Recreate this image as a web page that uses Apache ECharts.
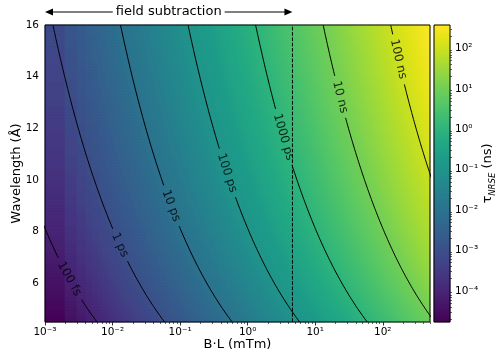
<!DOCTYPE html>
<html>
<head>
<meta charset="utf-8">
<script src="https://cdn.jsdelivr.net/npm/echarts@6/dist/echarts.min.js"></script>
<style>
  html, body { margin: 0; padding: 0; background: #fff; }
  #chart { width: 496px; height: 353px; }
</style>
</head>
<body>
<div id="chart"></div>
<script>
// NRSE spin-echo time over field integral and neutron wavelength
const echoTimeCoefficient = 1.863e-4;          // tau_NRSE in ns per (mT*m * A^3)
const fieldIntegralRange = [1e-3, 500];        // B*L, mTm
const fieldIntegralStep = 1e-3;                // sampling step of B*L
const wavelengthRange = [4.5, 16];             // Angstrom
const subtractionLimit = 4.6;                  // mTm, upper end of field subtraction
const contourLevels = [1e-4, 1e-3, 1e-2, 1e-1, 1, 10, 100];   // ns
const contourNames = ['100 fs', '1 ps', '10 ps', '100 ps', '1000 ps', '10 ns', '100 ns'];
const contourLabelWavelengths = [6.17, 7.48, 9.0, 10.27, 11.66, 13.21, 14.68];
const xTickExponents = [-3, -2, -1, 0, 1, 2];
const yTicks = [6, 8, 10, 12, 14, 16];
const colorTickExponents = [-4, -3, -2, -1, 0, 1, 2];

const viridis = ['#440154', '#471365', '#482475', '#463480', '#414487', '#3b528b', '#355f8d',
  '#2f6c8e', '#2a788e', '#25848e', '#21918c', '#1e9c89', '#22a884', '#2fb47c', '#44bf70',
  '#5ec962', '#7ad151', '#9bd93c', '#bddf26', '#dfe318', '#fde725'];

const FONT = 'DejaVu Sans';
const PLOT = { left: 45, top: 25, width: 385, height: 297 };
const CBAR = { left: 434, top: 25, width: 16, height: 297 };

function echoTime(bl, lam) { return echoTimeCoefficient * bl * lam * lam * lam; }

const xMin = Math.log10(fieldIntegralRange[0]);
const xMax = Math.log10(fieldIntegralRange[1]);
const vMin = Math.log10(echoTime(fieldIntegralRange[0], wavelengthRange[0]));
const vMax = Math.log10(echoTime(fieldIntegralRange[1], wavelengthRange[1]));

// map cells: log-spaced columns, each taking tau at the B*L sample below its centre
const NX = 385, NY = 99;
const mapCells = [];
for (let i = 0; i < NX; i++) {
  const blCentre = Math.pow(10, xMin + (i + 0.5) * (xMax - xMin) / NX);
  const bl = Math.floor(blCentre / fieldIntegralStep + 1e-9) * fieldIntegralStep;
  for (let j = 0; j < NY; j++) {
    const lam = wavelengthRange[0] + (j + 0.5) * (wavelengthRange[1] - wavelengthRange[0]) / NY;
    mapCells.push([i, j, Math.log10(echoTime(bl, lam))]);
  }
}
const NCB = 297;
const cbarCells = [];
for (let j = 0; j < NCB; j++) cbarCells.push([0, j, vMin + (j + 0.5) * (vMax - vMin) / NCB]);

function minorLogTicks(lo, hi) {
  const out = [];
  for (let d = Math.floor(lo); d <= Math.ceil(hi); d++) {
    for (let k = 2; k <= 9; k++) {
      const v = d + Math.log10(k);
      if (v >= lo && v <= hi) out.push(v);
    }
  }
  return out;
}

const SUP = { '-': '\u207b', '0': '\u2070', '1': '\u00b9', '2': '\u00b2', '3': '\u00b3', '4': '\u2074' };
function powLabel(v) {
  const n = String(Math.round(Number(v)));
  return '10' + n.split('').map(c => SUP[c]).join('');
}

const idx = n => Array.from({ length: n }, (_, i) => i);
const gridBase = { outerBoundsMode: 'none', containLabel: false };

const chart = echarts.init(document.getElementById('chart'), null, { renderer: 'canvas' });

const baseOption = {
  animation: false,
  backgroundColor: '#fff',
  textStyle: { fontFamily: FONT },
  grid: [
    Object.assign({ show: false }, gridBase, PLOT),
    Object.assign({ show: true, z: 10, borderColor: '#000', borderWidth: 1, backgroundColor: 'transparent' }, gridBase, PLOT),
    Object.assign({ show: false }, gridBase, CBAR),
    Object.assign({ show: true, z: 10, borderColor: '#000', borderWidth: 1, backgroundColor: 'transparent' }, gridBase, CBAR)
  ],
  xAxis: [
    { type: 'category', gridIndex: 0, data: idx(NX), show: false },
    {
      type: 'value', gridIndex: 1, min: xMin, max: xMax, position: 'bottom',
      axisLine: { show: false }, splitLine: { show: false },
      axisTick: { show: true, inside: false, length: 3.5, customValues: xTickExponents, lineStyle: { color: '#000', width: 0.8 } },
      axisLabel: { show: true, margin: 5, customValues: xTickExponents, formatter: powLabel,
        fontSize: 10.5, fontFamily: FONT, color: '#000', hideOverlap: false },
      name: 'B\u00b7L (mTm)', nameLocation: 'middle', nameGap: 16, nameMoveOverlap: false,
      nameTextStyle: { fontSize: 13, fontFamily: FONT, color: '#000', verticalAlign: 'top' }
    },
    {
      type: 'value', gridIndex: 1, min: xMin, max: xMax, position: 'bottom',
      axisLine: { show: false }, splitLine: { show: false },
      axisTick: { show: true, inside: false, length: 2, customValues: minorLogTicks(xMin, xMax), lineStyle: { color: '#000', width: 0.6 } },
      axisLabel: { show: false }
    },
    { type: 'category', gridIndex: 2, data: [0], show: false },
    { type: 'value', gridIndex: 3, min: 0, max: 1, show: false }
  ],
  yAxis: [
    { type: 'category', gridIndex: 0, data: idx(NY), show: false },
    {
      type: 'value', gridIndex: 1, min: wavelengthRange[0], max: wavelengthRange[1], position: 'left',
      axisLine: { show: false }, splitLine: { show: false },
      axisTick: { show: true, inside: false, length: 3.5, customValues: yTicks, lineStyle: { color: '#000', width: 0.8 } },
      axisLabel: { show: true, margin: 6, customValues: yTicks, fontSize: 10.5, fontFamily: FONT, color: '#000' },
      name: 'Wavelength (\u00c5)', nameLocation: 'middle', nameGap: 22, nameMoveOverlap: false,
      nameTextStyle: { fontSize: 13, fontFamily: FONT, color: '#000' }
    },
    { type: 'category', gridIndex: 2, data: idx(NCB), show: false },
    {
      type: 'value', gridIndex: 3, min: vMin, max: vMax, position: 'right',
      axisLine: { show: false }, splitLine: { show: false },
      axisTick: { show: true, inside: false, length: 3.5, customValues: colorTickExponents, lineStyle: { color: '#000', width: 0.8 } },
      axisLabel: { show: true, margin: 5, customValues: colorTickExponents, formatter: powLabel,
        fontSize: 10.5, fontFamily: FONT, color: '#000' },
      name: '{t|\u03c4}{s|NRSE}{t| (ns)}', nameLocation: 'middle', nameGap: 31, nameRotate: 90,
      nameMoveOverlap: false,
      nameTextStyle: {
        rich: {
          t: { fontSize: 13, fontFamily: FONT, color: '#000', lineHeight: 16, verticalAlign: 'top' },
          s: { fontSize: 8.5, fontFamily: FONT, fontStyle: 'italic', color: '#000', lineHeight: 8, verticalAlign: 'bottom' }
        }
      }
    },
    {
      type: 'value', gridIndex: 3, min: vMin, max: vMax, position: 'right',
      axisLine: { show: false }, splitLine: { show: false },
      axisTick: { show: true, inside: false, length: 2, customValues: minorLogTicks(vMin, vMax), lineStyle: { color: '#000', width: 0.6 } },
      axisLabel: { show: false }
    }
  ],
  visualMap: {
    show: false, type: 'continuous', seriesIndex: [0, 1], dimension: 2,
    min: vMin, max: vMax, inRange: { color: viridis }
  },
  series: [
    { type: 'heatmap', xAxisIndex: 0, yAxisIndex: 0, data: mapCells, progressive: 0, silent: true },
    { type: 'heatmap', xAxisIndex: 3, yAxisIndex: 2, data: cbarCells, progressive: 0, silent: true }
  ]
};
chart.setOption(baseOption);

// contour lines, broken where their inline labels sit
const px = p => chart.convertToPixel({ xAxisIndex: 1, yAxisIndex: 1 }, p);
const ctx = document.createElement('canvas').getContext('2d');
ctx.font = '12px "' + FONT + '"';

const contourSeries = [];
const labelPoints = [];
contourLevels.forEach((level, k) => {
  const blAt = lam => Math.log10(level / (echoTimeCoefficient * lam * lam * lam));
  const lamL = contourLabelWavelengths[k];
  const centre = px([blAt(lamL), lamL]);
  const half = ctx.measureText(contourNames[k]).width / 2 + 5;
  const lower = [], upper = [];
  const N = 800;
  for (let s = 0; s <= N; s++) {
    const lam = wavelengthRange[0] + s * (wavelengthRange[1] - wavelengthRange[0]) / N;
    const pt = [blAt(lam), lam];
    const p = px(pt);
    const d = Math.hypot(p[0] - centre[0], p[1] - centre[1]);
    if (d < half) continue;
    (lam < lamL ? lower : upper).push(pt);
  }
  [lower, upper].forEach(seg => contourSeries.push({
    type: 'line', xAxisIndex: 1, yAxisIndex: 1, data: seg, showSymbol: false, symbol: 'none',
    silent: true, clip: true, z: 5, lineStyle: { color: '#000', width: 1 }
  }));
  const a = px([blAt(lamL + 0.05), lamL + 0.05]);
  const b = px([blAt(lamL - 0.05), lamL - 0.05]);
  const angle = -Math.atan2(b[1] - a[1], b[0] - a[0]) * 180 / Math.PI;
  labelPoints.push({
    value: [blAt(lamL), lamL],
    label: { rotate: angle, formatter: contourNames[k] }
  });
});

const xSub = Math.log10(subtractionLimit);
const pLeft = px([xMin, wavelengthRange[1]]);
const pRight = px([xSub, wavelengthRange[1]]);
const ay = pLeft[1] - 13;
const head = 8, hw = 3.5;

chart.setOption({
  series: baseOption.series.concat(contourSeries, [
    {
      type: 'line', xAxisIndex: 1, yAxisIndex: 1, silent: true, showSymbol: false, symbol: 'none', z: 6,
      data: [[xSub, wavelengthRange[0]], [xSub, wavelengthRange[1]]],
      lineStyle: { color: '#000', width: 1, type: [3.7, 1.6] }
    },
    {
      type: 'scatter', xAxisIndex: 1, yAxisIndex: 1, silent: true, symbolSize: 0, z: 7,
      data: labelPoints,
      label: { show: true, position: 'inside', fontSize: 12, fontFamily: FONT, color: '#000' }
    }
  ]),
  graphic: [
    { type: 'line', silent: true, shape: { x1: pLeft[0] + head - 1, y1: ay, x2: pRight[0] - head + 1, y2: ay },
      style: { stroke: '#000', lineWidth: 1 } },
    { type: 'polygon', silent: true, shape: { points: [[pLeft[0], ay], [pLeft[0] + head, ay - hw], [pLeft[0] + head, ay + hw]] },
      style: { fill: '#000' } },
    { type: 'polygon', silent: true, shape: { points: [[pRight[0], ay], [pRight[0] - head, ay - hw], [pRight[0] - head, ay + hw]] },
      style: { fill: '#000' } },
    { type: 'text', silent: true, x: (pLeft[0] + pRight[0]) / 2, y: ay,
      style: { text: 'field subtraction', fontSize: 13, fontFamily: FONT, fill: '#000',
        align: 'center', verticalAlign: 'middle', backgroundColor: '#fff', padding: [0, 3] } }
  ]
});
</script>
</body>
</html>
